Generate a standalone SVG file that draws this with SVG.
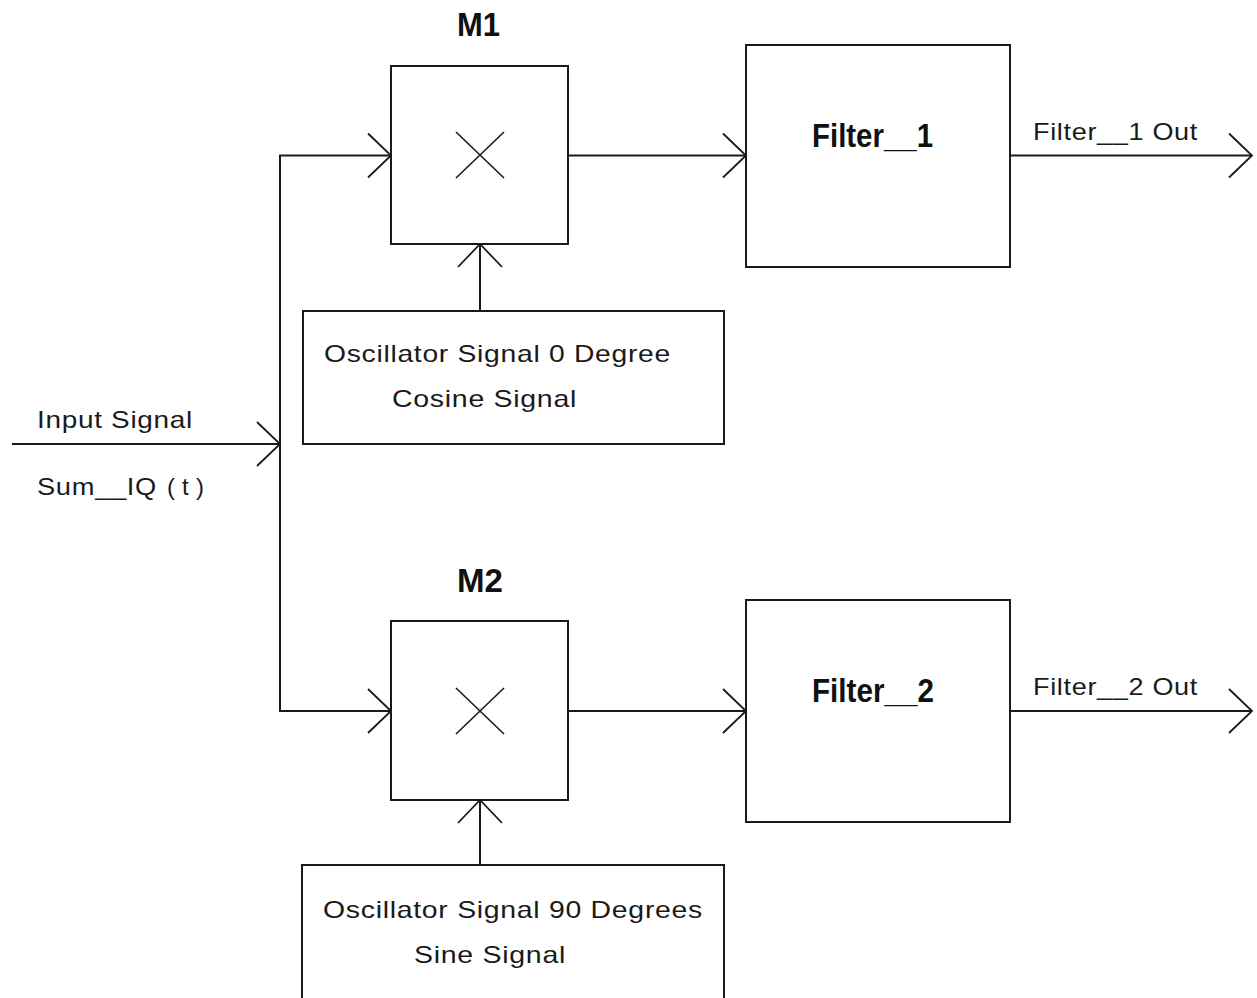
<svg xmlns="http://www.w3.org/2000/svg" width="1257" height="998" viewBox="0 0 1257 998">
<style>
.box{fill:none;stroke:#1a1a1a;stroke-width:2}
.ln{fill:none;stroke:#1a1a1a;stroke-width:2}
.x{stroke:#1a1a1a;stroke-width:1.6}
.b{font-family:"Liberation Sans",Arial,sans-serif;font-weight:bold;font-size:33px;fill:#111}
.t{font-family:"Liberation Sans",Arial,sans-serif;font-size:24px;fill:#1a1a1a;letter-spacing:0.6px}
</style>
<defs>
<marker id="chev" viewBox="-26 -25 30 50" refX="0" refY="0" markerWidth="30" markerHeight="50" markerUnits="userSpaceOnUse" orient="auto">
<path d="M-23,-22 L0,0 L-23,22" fill="none" stroke="#1a1a1a" stroke-width="1.8"/>
</marker>
</defs>
<rect width="1257" height="998" fill="#fff"/>
<g id="connectors">
<path class="ln" d="M12,444 H280" marker-end="url(#chev)"/>
<path class="ln" d="M280,444 V155.5 H391" marker-end="url(#chev)"/>
<path class="ln" d="M280,444 V711 H391" marker-end="url(#chev)"/>
<path class="ln" d="M568,155.5 H746" marker-end="url(#chev)"/>
<path class="ln" d="M1010,155.5 H1252" marker-end="url(#chev)"/>
<path class="ln" d="M480,311 V244" marker-end="url(#chev)"/>
<path class="ln" d="M568,711 H746" marker-end="url(#chev)"/>
<path class="ln" d="M1010,711 H1252" marker-end="url(#chev)"/>
<path class="ln" d="M480,865 V800" marker-end="url(#chev)"/>
</g>
<g id="input-labels">
<text class="t" x="37" y="428" textLength="156" lengthAdjust="spacingAndGlyphs">Input Signal</text>
<text class="t" y="495"><tspan x="37" textLength="120" lengthAdjust="spacingAndGlyphs">Sum__IQ</tspan> <tspan x="167">(</tspan><tspan x="182">t</tspan><tspan x="196">)</tspan></text>
</g>
<g id="m1">
<rect class="box" x="391" y="66" width="177" height="178"/>
<line class="x" x1="456" y1="132" x2="504" y2="178"/>
<line class="x" x1="456" y1="178" x2="504" y2="132"/>
<text class="b" x="457" y="36" textLength="43" lengthAdjust="spacingAndGlyphs">M1</text>
</g>
<g id="osc1">
<rect class="box" x="303" y="311" width="421" height="133"/>
<text class="t" x="324" y="362" textLength="347" lengthAdjust="spacingAndGlyphs">Oscillator Signal 0 Degree</text>
<text class="t" x="392" y="407" textLength="185" lengthAdjust="spacingAndGlyphs">Cosine Signal</text>
</g>
<g id="filter1">
<rect class="box" x="746" y="45" width="264" height="222"/>
<text class="b" x="812" y="147" textLength="121" lengthAdjust="spacingAndGlyphs">Filter__1</text>
</g>
<g id="out1">
<text class="t" x="1033" y="140" textLength="165" lengthAdjust="spacingAndGlyphs">Filter__1 Out</text>
</g>
<g id="m2">
<rect class="box" x="391" y="621" width="177" height="179"/>
<line class="x" x1="456" y1="688" x2="504" y2="734"/>
<line class="x" x1="456" y1="734" x2="504" y2="688"/>
<text class="b" x="457" y="592" textLength="46" lengthAdjust="spacingAndGlyphs">M2</text>
</g>
<g id="osc2">
<path class="box" d="M302,998 V865 H724 V998"/>
<text class="t" x="323" y="918" textLength="380" lengthAdjust="spacingAndGlyphs">Oscillator Signal 90 Degrees</text>
<text class="t" x="414" y="963" textLength="152" lengthAdjust="spacingAndGlyphs">Sine Signal</text>
</g>
<g id="filter2">
<rect class="box" x="746" y="600" width="264" height="222"/>
<text class="b" x="812" y="702" textLength="122" lengthAdjust="spacingAndGlyphs">Filter__2</text>
</g>
<g id="out2">
<text class="t" x="1033" y="695" textLength="165" lengthAdjust="spacingAndGlyphs">Filter__2 Out</text>
</g>
</svg>
